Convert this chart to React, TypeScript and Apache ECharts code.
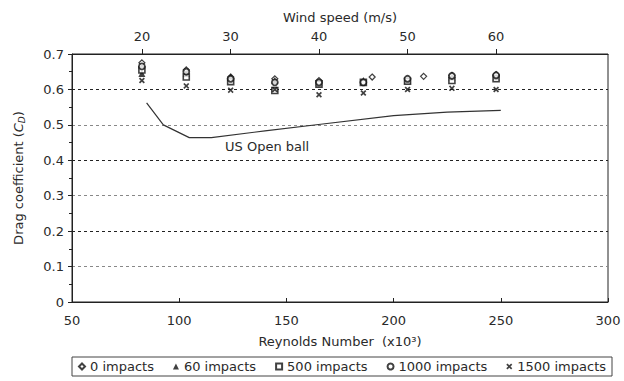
import React, { useEffect, useRef } from "react";
import * as echarts from "echarts";

// Wind speeds shown on the top axis (m/s)
const windTicks = [20, 30, 40, 50, 60];
// Reynolds number (x10^3) per wind speed ~ 4.13 * V
const reFactor = 4.13;
// Measurement positions (Reynolds x10^3) at 20..60 m/s
const reynolds = [82.6, 103.3, 124, 144.6, 165.2, 185.9, 206.5, 227.2, 247.8];
const reynolds0 = [82.6, 103.3, 124, 144.6, 165.2, 190, 214, 227.2, 247.8];

const cd0 = [0.675, 0.655, 0.635, 0.63, 0.625, 0.635, 0.637, 0.64, 0.642];
const cd60 = [0.645, 0.645, 0.635, 0.625, 0.62, 0.625, 0.625, 0.635, 0.635];
const cd500 = [0.655, 0.635, 0.622, 0.597, 0.615, 0.62, 0.623, 0.625, 0.63];
const cd1000 = [0.665, 0.65, 0.63, 0.62, 0.62, 0.62, 0.63, 0.638, 0.64];
const cd1500 = [0.625, 0.61, 0.598, 0.6, 0.585, 0.59, 0.6, 0.603, 0.6];

// US Open ball curve
const usRe = [84.8, 92.6, 104.7, 115, 140, 165, 200, 225, 250];
const usCd = [0.562, 0.5, 0.464, 0.464, 0.483, 0.501, 0.526, 0.536, 0.541];

const seriesNames = ["0 impacts", "60 impacts", "500 impacts", "1000 impacts", "1500 impacts"];

const FONT = "DejaVu Sans";
const FS = 13;
const TXT = "#2a2a2a";
const XPATH = "path://M2,0L5,3L8,0L10,2L7,5L10,8L8,10L5,7L2,10L0,8L3,5L0,2Z";

function pairs(xs: number[], ys: number[]) {
  return xs.map((x, i) => [x, ys[i]]);
}

export default function App() {
  const ref = useRef<HTMLDivElement>(null);
  useEffect(() => {
    if (!ref.current) return;
    const chart = echarts.init(ref.current, null, { renderer: "svg" });
    const hollow = { color: "#fff", borderColor: "#111", borderWidth: 1.2 };
    const ts = { fontSize: FS, color: TXT, fontFamily: FONT };
    chart.setOption({
      animation: false,
      textStyle: { fontFamily: FONT, color: TXT },
      grid: {
        left: 72, right: 16, top: 54, bottom: 79,
        show: true, borderColor: "#222", borderWidth: 1,
      },
      legend: {
        data: seriesNames,
        left: 72,
        top: 357,
        itemWidth: 6,
        itemHeight: 6,
        itemGap: 19,
        padding: [3, 6, 3, 6],
        borderColor: "#444",
        borderWidth: 1,
        textStyle: ts,
      },
      xAxis: [
        {
          type: "value",
          min: 50, max: 300, interval: 50,
          position: "bottom",
          name: "Reynolds Number  (x10³)",
          nameLocation: "middle",
          nameGap: 33,
          nameTextStyle: ts,
          axisLine: { show: true, lineStyle: { color: "#222" } },
          axisTick: { show: true, inside: true, length: 4, lineStyle: { color: "#222" } },
          axisLabel: { ...ts, margin: 12 },
          splitLine: { show: false },
        },
        {
          type: "value",
          min: 50 / reFactor, max: 300 / reFactor,
          position: "top",
          name: "Wind speed (m/s)",
          nameLocation: "middle",
          nameGap: 30,
          nameTextStyle: ts,
          axisLine: { show: true, lineStyle: { color: "#222" } },
          axisTick: { show: true, length: 5, customValues: windTicks, lineStyle: { color: "#222" } },
          axisLabel: { ...ts, margin: 11, customValues: windTicks },
          splitLine: { show: false },
        },
      ],
      yAxis: {
        type: "value",
        min: 0, max: 0.7, interval: 0.1,
        name: "Drag coefficient ({i|C}{sub|D})",
        nameLocation: "middle",
        nameGap: 46,
        nameTextStyle: {
          ...ts,
          rich: {
            i: { ...ts, fontStyle: "italic" },
            sub: { fontSize: 9, fontStyle: "italic", color: TXT, fontFamily: FONT, verticalAlign: "bottom", padding: [6, 0, 0, 0] },
          },
        },
        axisLine: { show: true, lineStyle: { color: "#222" } },
        axisTick: { show: true, length: 4, lineStyle: { color: "#222" } },
        minorTick: { show: true, splitNumber: 2, length: 3, lineStyle: { color: "#222" } },
        axisLabel: {
          ...ts, margin: 8,
          formatter: (v: number) => (v === 0 ? "0" : v.toFixed(1)),
        },
        splitLine: { show: true, lineStyle: { color: ["#222", "#888"], type: [3, 3], width: 1 } },
      },
      series: [
        {
          name: "US Open ball",
          type: "line",
          data: pairs(usRe, usCd),
          showSymbol: false,
          symbol: "none",
          lineStyle: { color: "#333", width: 1.2 },
          z: 2,
          markPoint: {
            symbol: "circle",
            symbolSize: 1,
            itemStyle: { color: "transparent" },
            label: { show: true, position: "inside", formatter: "US Open ball", ...ts },
            data: [{ coord: [141, 0.439] }],
          },
        },
        {
          name: seriesNames[0], type: "scatter", data: pairs(reynolds0, cd0),
          symbol: "diamond", symbolSize: 6, itemStyle: hollow, z: 5,
        },
        {
          name: seriesNames[1], type: "scatter", data: pairs(reynolds, cd60),
          symbol: "triangle", symbolSize: 7, itemStyle: { color: "#111" }, z: 5,
        },
        {
          name: seriesNames[2], type: "scatter", data: pairs(reynolds, cd500),
          symbol: "rect", symbolSize: 6, itemStyle: { color: "#fff", borderColor: "#111", borderWidth: 1.6 }, z: 5,
        },
        {
          name: seriesNames[3], type: "scatter", data: pairs(reynolds, cd1000),
          symbol: "circle", symbolSize: 6, itemStyle: { color: "#fff", borderColor: "#111", borderWidth: 1.8 }, z: 5,
        },
        {
          name: seriesNames[4], type: "scatter", data: pairs(reynolds, cd1500),
          symbol: XPATH, symbolSize: 6, itemStyle: { color: "#111" }, z: 5,
        },
      ],
    });
    return () => chart.dispose();
  }, []);
  return <div ref={ref} style={{ width: 624, height: 381, position: "absolute", left: 0, top: 0 }} />;
}
